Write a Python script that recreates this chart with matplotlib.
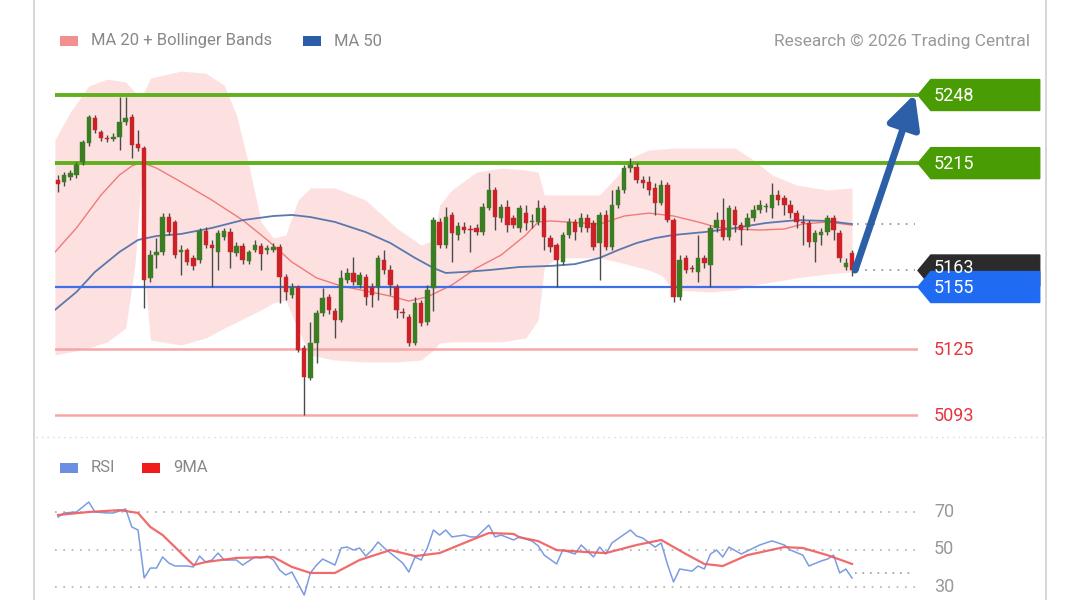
import matplotlib
matplotlib.use("Agg")
import matplotlib.pyplot as plt
from matplotlib.patches import Polygon, Rectangle
from matplotlib.lines import Line2D

plt.rcParams['font.family'] = ['Roboto', 'DejaVu Sans']

# ---------------- data ----------------
opens = [5206.8, 5205.9, 5208.3, 5209.3, 5215.5, 5224.8, 5236.9, 5230.1, 5227.2, 5226.7,
         5227.7, 5234.9, 5237.3, 5224.3, 5222.3, 5159.4, 5170.5, 5172.0, 5188.9, 5186.5,
         5172.0, 5172.9, 5169.1, 5168.1, 5182.1, 5175.3, 5172.0, 5179.2, 5181.6, 5171.5,
         5174.9, 5167.6, 5172.9, 5174.9, 5172.9, 5172.9, 5174.4, 5159.9, 5151.1, 5155.0,
         5125.5, 5110.9, 5127.9, 5142.4, 5150.2, 5143.4, 5139.0, 5158.4, 5161.8, 5156.0,
         5159.9, 5155.0, 5155.0, 5168.1, 5163.2, 5155.0, 5142.9, 5140.5, 5127.9, 5147.3,
         5138.0, 5154.5, 5186.5, 5175.3, 5189.9, 5180.2, 5184.0, 5183.1, 5183.6, 5181.6,
         5193.3, 5202.0, 5188.4, 5193.8, 5188.4, 5183.6, 5190.8, 5186.5, 5186.5, 5193.3,
         5178.7, 5175.3, 5167.1, 5180.2, 5186.5, 5184.0, 5188.4, 5186.0, 5176.3, 5189.9,
         5174.4, 5194.7, 5202.0, 5212.6, 5213.1, 5206.8, 5205.9, 5203.0, 5195.7, 5204.4,
         5187.4, 5150.2, 5169.1, 5164.2, 5162.3, 5169.1, 5165.6, 5183.6, 5187.4, 5179.2,
         5192.3, 5185.0, 5184.0, 5188.4, 5192.3, 5193.8, 5193.3, 5199.6, 5198.1, 5194.7,
         5190.8, 5186.5, 5186.0, 5176.8, 5180.2, 5181.6, 5188.4, 5181.2, 5164.7, 5171.5]
highs = [5209.3, 5210.7, 5211.7, 5215.5, 5226.2, 5238.3, 5238.3, 5231.0, 5228.6, 5229.6,
         5247.0, 5247.0, 5238.8, 5231.0, 5223.3, 5172.9, 5178.7, 5190.8, 5190.8, 5187.4,
         5175.3, 5173.9, 5170.5, 5183.6, 5184.0, 5177.8, 5182.6, 5183.6, 5183.6, 5176.8,
         5176.3, 5172.9, 5177.8, 5176.3, 5175.3, 5176.3, 5175.8, 5161.3, 5157.0, 5156.0,
         5126.9, 5138.0, 5143.9, 5154.5, 5151.6, 5144.8, 5163.2, 5164.2, 5169.5, 5162.3,
         5161.3, 5157.0, 5170.5, 5172.9, 5165.6, 5156.5, 5144.8, 5141.9, 5150.2, 5148.7,
         5156.0, 5188.9, 5188.4, 5193.8, 5191.3, 5186.5, 5186.5, 5185.0, 5185.5, 5195.7,
         5210.2, 5203.4, 5195.2, 5197.1, 5189.9, 5194.7, 5194.7, 5190.4, 5197.1, 5194.7,
         5180.2, 5176.3, 5181.6, 5188.4, 5187.9, 5190.8, 5190.4, 5187.4, 5191.3, 5192.3,
         5202.0, 5203.9, 5214.1, 5217.5, 5215.1, 5208.8, 5208.8, 5205.4, 5206.8, 5205.9,
         5188.4, 5170.5, 5170.5, 5165.6, 5180.2, 5170.5, 5185.0, 5191.3, 5198.1, 5194.7,
         5194.2, 5186.5, 5190.8, 5194.7, 5197.1, 5195.7, 5205.4, 5202.0, 5199.6, 5197.1,
         5192.3, 5189.9, 5187.4, 5182.6, 5183.6, 5189.9, 5189.9, 5182.6, 5169.1, 5172.9]
lows = [5201.0, 5203.9, 5206.8, 5207.8, 5214.1, 5223.3, 5229.6, 5225.7, 5225.2, 5225.7,
        5221.4, 5233.5, 5217.5, 5220.9, 5144.8, 5157.4, 5164.2, 5170.5, 5180.2, 5169.1,
        5160.8, 5165.6, 5163.2, 5166.6, 5173.9, 5155.0, 5163.2, 5177.8, 5164.2, 5170.0,
        5166.1, 5166.1, 5172.0, 5163.2, 5171.0, 5172.0, 5147.3, 5148.7, 5149.7, 5123.5,
        5093.0, 5109.9, 5118.2, 5141.0, 5141.9, 5130.3, 5138.0, 5157.0, 5156.0, 5154.5,
        5146.3, 5145.3, 5148.7, 5161.3, 5151.1, 5140.0, 5140.0, 5126.4, 5126.9, 5136.1,
        5136.6, 5143.4, 5173.9, 5173.9, 5167.1, 5177.8, 5181.2, 5172.0, 5180.2, 5180.2,
        5192.3, 5182.6, 5186.5, 5181.6, 5183.6, 5181.6, 5182.6, 5183.6, 5185.0, 5172.9,
        5172.0, 5155.0, 5165.6, 5178.7, 5177.8, 5181.6, 5181.6, 5172.9, 5158.4, 5172.9,
        5172.9, 5193.3, 5200.5, 5210.7, 5205.4, 5203.0, 5199.6, 5189.9, 5194.7, 5186.5,
        5147.7, 5148.7, 5161.8, 5162.3, 5157.4, 5164.2, 5155.0, 5181.6, 5177.8, 5177.8,
        5181.6, 5175.3, 5182.6, 5187.0, 5190.8, 5191.3, 5188.4, 5194.7, 5189.9, 5188.4,
        5183.6, 5175.3, 5174.4, 5167.1, 5175.3, 5180.2, 5177.8, 5167.1, 5163.2, 5160.3]
closes = [5204.9, 5209.3, 5210.2, 5214.1, 5225.2, 5237.3, 5231.0, 5227.2, 5226.7, 5227.7,
          5234.9, 5236.9, 5223.8, 5222.3, 5158.4, 5170.5, 5172.0, 5188.9, 5181.6, 5170.5,
          5172.9, 5167.1, 5165.2, 5182.1, 5175.3, 5173.9, 5181.2, 5182.1, 5172.0, 5174.9,
          5168.1, 5172.0, 5175.3, 5171.0, 5173.9, 5174.4, 5159.9, 5152.6, 5155.0, 5124.5,
          5111.4, 5127.9, 5142.4, 5149.7, 5143.9, 5139.0, 5159.4, 5161.8, 5157.4, 5160.8,
          5150.2, 5151.1, 5169.1, 5163.2, 5156.0, 5143.9, 5142.4, 5127.9, 5147.3, 5137.6,
          5153.5, 5187.4, 5175.3, 5188.9, 5181.2, 5184.5, 5182.6, 5182.6, 5181.6, 5193.8,
          5202.0, 5188.9, 5193.8, 5185.0, 5185.0, 5193.3, 5186.0, 5187.0, 5193.3, 5179.2,
          5174.4, 5168.1, 5180.2, 5186.5, 5181.6, 5188.4, 5183.6, 5174.4, 5189.9, 5174.4,
          5194.7, 5202.0, 5212.6, 5214.1, 5206.8, 5205.4, 5202.0, 5195.7, 5204.4, 5187.4,
          5150.2, 5168.1, 5163.2, 5163.7, 5169.1, 5166.6, 5183.6, 5187.4, 5179.2, 5193.3,
          5185.0, 5182.6, 5188.4, 5192.3, 5194.7, 5194.2, 5199.6, 5197.1, 5194.7, 5190.8,
          5186.5, 5186.0, 5176.8, 5181.2, 5181.6, 5188.4, 5182.6, 5169.1, 5166.6, 5163.2]

# Bollinger band outline (candle index, price)
bb_idx = [-0.5, 2, 5, 8, 11, 12.5, 13.5, 14.3, 15, 20, 24, 27, 29, 31, 33, 35, 37, 39, 41, 45,
          50, 55, 59, 61, 62, 64, 68, 72, 76, 78, 79, 81, 88, 91, 93, 96, 98, 100, 106, 110,
          113, 116, 120, 125, 129]
bb_upper = [5226.2, 5239.8, 5252.4, 5255.7, 5254.3, 5249.4, 5247.0, 5251.4, 5256.2, 5259.6,
            5258.6, 5252.8, 5238.3, 5214.1, 5186.5, 5178.7, 5180.2, 5197.1, 5203.0, 5203.0,
            5197.1, 5183.6, 5175.3, 5177.8, 5194.7, 5202.0, 5210.7, 5212.6, 5211.7, 5210.7,
            5199.6, 5199.6, 5199.6, 5209.3, 5217.5, 5221.4, 5221.8, 5222.3, 5222.3, 5222.3,
            5216.5, 5209.3, 5204.4, 5202.0, 5203.0]
bb_lower = [5122.1, 5123.5, 5125.5, 5128.4, 5135.1, 5165.6, 5206.8, 5153.5, 5129.3, 5126.9,
            5130.3, 5135.1, 5138.0, 5141.0, 5143.9, 5147.3, 5148.7, 5134.2, 5122.1, 5119.6,
            5118.7, 5118.7, 5119.6, 5124.5, 5127.9, 5128.4, 5128.4, 5128.4, 5130.3, 5139.0,
            5164.2, 5169.1, 5169.1, 5167.1, 5165.6, 5163.2, 5160.8, 5153.5, 5152.6, 5153.5,
            5156.0, 5157.4, 5159.4, 5161.3, 5162.3]

ma20_idx = [-0.5, 3, 7, 10, 12, 13.5, 16, 20, 25, 30, 34, 38, 42, 46, 50, 54, 57, 60, 64, 68,
            72, 76, 78, 80, 88, 92, 96, 100, 104, 107, 110, 114, 118, 121, 125, 129]
ma20 = [5171.9, 5183.6, 5199.6, 5209.3, 5213.6, 5215.5, 5212.6, 5205.9, 5197.1, 5187.4,
        5177.8, 5167.1, 5159.4, 5155.5, 5153.1, 5150.6, 5148.2, 5150.2, 5156.0, 5164.2,
        5170.5, 5180.2, 5186.5, 5187.0, 5185.5, 5189.4, 5190.8, 5189.4, 5186.5, 5184.0,
        5183.1, 5182.6, 5183.1, 5185.5, 5186.5, 5185.0]

ma50_idx = [-0.5, 3, 6, 10, 13, 16, 20, 25, 30, 35, 38, 41, 45, 50, 54, 58, 61, 63, 66, 70,
            75, 80, 84, 88, 91, 94, 97, 100, 105, 110, 115, 120, 125, 129]
ma50 = [5143.9, 5152.6, 5162.3, 5172.0, 5177.8, 5179.7, 5180.7, 5183.6, 5187.4, 5189.4,
        5189.9, 5188.9, 5186.5, 5181.6, 5176.3, 5169.1, 5164.2, 5161.8, 5162.3, 5163.2,
        5164.7, 5165.2, 5166.1, 5169.1, 5172.9, 5176.3, 5178.7, 5180.2, 5181.6, 5183.6,
        5186.0, 5187.4, 5187.0, 5185.5]

rsi_idx = [0, 1, 3, 5, 6, 8, 9, 11, 12, 13, 14, 15, 16, 17, 18, 19, 21, 22, 23, 24, 25, 26, 27,
           29, 30, 32, 33, 34, 35, 36, 37, 38, 40, 41, 42, 43, 44, 45, 46, 47, 48, 49, 50, 51,
           52, 53, 55, 56, 57, 58, 59, 60, 61, 62, 63, 64, 66, 67, 68, 70, 71, 72, 74, 75, 77,
           78, 79, 81, 82, 84, 85, 87, 88, 89, 90, 93, 94, 95, 97, 98, 99, 100, 101, 103, 104,
           105, 106, 107, 108, 109, 111, 113, 114, 116, 118, 119, 121, 122, 124, 125, 126, 127,
           128, 129]
rsi = [67.3, 69.5, 70, 75.3, 70, 69.5, 69.5, 71.6, 62, 60.4, 34.8, 40.1, 40.1, 46, 42.8, 41.2,
       41.2, 40.7, 46.5, 43.3, 44.4, 48.1, 44.4, 44.4, 41.7, 46, 45.5, 46.5, 44.4, 39.1, 36.4,
       38, 25.7, 37.5, 41.7, 44.9, 43.3, 41.7, 50.8, 51.3, 49.7, 50.8, 46.5, 49.7, 54, 50.8,
       45.5, 42.8, 38, 46, 44.4, 50.8, 60.4, 57.7, 60.4, 56.7, 57.7, 56.7, 56.7, 63, 56.7,
       57.7, 55.1, 56.7, 54.5, 52, 47, 42.3, 49.7, 47.6, 52.4, 46, 51.3, 47.6, 53.5, 60.4,
       57.2, 56.1, 51.3, 53.5, 42.3, 32.7, 39.6, 38.5, 41.2, 39.6, 47.6, 49.7, 46, 51.3, 47.6,
       50.8, 52.4, 54.6, 52.4, 49.7, 47, 41.2, 43.9, 44.9, 47, 37.5, 39.6, 34.8]

ma9_idx = [0, 5, 10, 13, 15, 17, 19, 22, 24, 29, 35, 38, 41, 45, 49, 54, 58, 62, 66, 70, 74,
           75, 78, 81, 86, 89, 94, 98, 102, 105, 108, 112, 118, 121, 125, 129]
rsi_ma9 = [68.4, 70, 71, 69.5, 62, 57.7, 51.3, 41.7, 43.3, 45.5, 46, 40.7, 37.5, 37.5, 44.4,
           49.7, 46.5, 48.1, 53.5, 58.8, 58.3, 56.5, 54.5, 49.7, 48.6, 48.1, 52.4, 55.1, 47.6,
           42.3, 41.2, 47, 51.3, 50.8, 47, 42.3]

resist_levels = [5248, 5215]
pivot_level = 5155
support_levels = [5125, 5093]
last_price = 5163
rsi_levels = [70, 50, 30]

# ---------------- layout ----------------
W, H = 1068, 600
fig = plt.figure(figsize=(W / 100, H / 100), dpi=100)
fig.patch.set_facecolor('white')


def fx(px):
    return px / W


def fy(py):
    return 1 - py / H


XMIN, XMAX = -0.487, 139.72

ax = fig.add_axes([fx(55), fy(430), (918 - 55) / W, (430 - 60) / H])
ax.set_xlim(XMIN, XMAX)
ax.set_ylim(5085.74, 5264.96)
ax.axis('off')

# Bollinger band fill
ax.fill_between(bb_idx, bb_lower, bb_upper, color='#fde1e1', lw=0, zorder=1)
ax.plot(ma20_idx, ma20, color='#f07a7a', lw=1.0, zorder=2)
ax.plot(ma50_idx, ma50, color='#5a78ad', lw=1.3, zorder=2)

# level lines
for lv in resist_levels:
    ax.axhline(lv, color='#5fb01c', lw=2.8, zorder=3)
ax.axhline(pivot_level, color='#3d6fe6', lw=1.6, zorder=3)
for lv in support_levels:
    ax.axhline(lv, color='#f5a6a6', lw=1.8, zorder=3)

# candles
n = len(closes)
for i in range(n):
    o, h, l, c = opens[i], highs[i], lows[i], closes[i]
    up = c >= o
    col = '#3b7d23' if up else '#cc2127'
    ax.vlines(i, l, h, color='#4a4a4a', lw=1.0, zorder=4)
    b = min(o, c)
    hgt = max(abs(c - o), 0.6)
    ax.add_patch(Rectangle((i - 0.36, b), 0.72, hgt, facecolor=col, edgecolor=col,
                           lw=0.3, zorder=5))

# dotted extensions
ax.plot([n - 0.2, 139.2], [ma50[-1], ma50[-1]], color='#9a9a9a', lw=1.3,
        ls=(0, (1, 3.5)), zorder=3, clip_on=False)
ax.plot([n - 0.2, 139.2], [last_price, last_price], color='#9a9a9a', lw=1.3,
        ls=(0, (1, 3.5)), zorder=3, clip_on=False)

# arrow
ax.annotate('', xy=(139.2, 5248.5), xytext=(n - 0.5, closes[-1]),
            arrowprops=dict(arrowstyle='-|>,head_length=1.0,head_width=0.5',
                            color='#2c5fa8', lw=5, shrinkA=0, shrinkB=0,
                            mutation_scale=20),
            annotation_clip=False, zorder=8)

# tags
TIP, BODY, END = 139.72, 141.8, 159.5
HALF = 7.5


def tag(level, color, text, text_y=None):
    pts = [(TIP, level), (BODY, level + HALF), (END, level + HALF), (END, level - HALF),
           (BODY, level - HALF)]
    ax.add_patch(Polygon(pts, closed=True, facecolor=color, edgecolor=color,
                         clip_on=False, zorder=9))
    ty = level - 0.3 if text_y is None else text_y
    ax.text(142.3, ty, text, color='white', fontsize=13, va='center', ha='left',
            clip_on=False, zorder=10)


tag(resist_levels[0], '#4a9c05', str(resist_levels[0]))
tag(resist_levels[1], '#4a9c05', str(resist_levels[1]))
tag(last_price, '#2b2b2b', str(last_price), text_y=last_price + 1.0)
tag(pivot_level, '#1f6bf2', str(pivot_level))
for lv in support_levels:
    ax.text(142.3, lv - 0.3, str(lv), color='#e5353f', fontsize=13, va='center', ha='left',
            clip_on=False, zorder=10)

# ---------------- RSI panel ----------------
rax = fig.add_axes([fx(55), fy(600), (918 - 55) / W, (600 - 490) / H])
rax.set_xlim(XMIN, XMAX)
rax.set_ylim(23.07, 81.73)
rax.axis('off')
for lv in rsi_levels:
    rax.plot([XMIN, 139.5], [lv, lv], color='#b0b0b0', lw=1.2, ls=(0, (1, 4)))
    fig.text(fx(934), fy(512 + (70 - lv) * 1.875), str(lv), color='#999999', fontsize=13,
             va='center', ha='left')
rax.plot(rsi_idx, rsi, color='#7b9be3', lw=1.1, zorder=3)
rax.plot(ma9_idx, rsi_ma9, color='#ef5b5b', lw=1.6, zorder=4, alpha=0.9)
rax.plot([rsi_idx[-1] + 0.5, 139.2], [37.5, 37.5], color='#9a9a9a', lw=1.2,
         ls=(0, (1, 3.5)))

# ---------------- frame & legends ----------------
fig.add_artist(Line2D([fx(34), fx(34)], [0, 1], color='#d0d0d0', lw=1.2))
fig.add_artist(Line2D([fx(1046), fx(1046)], [0, 1], color='#d0d0d0', lw=1.2))
fig.add_artist(Line2D([fx(36), fx(1044)], [fy(437), fy(437)], color='#d8d8d8', lw=1.0,
                      ls=(0, (1, 3))))


def legend_item(x, y, color, text):
    fig.add_artist(Rectangle((fx(x), fy(y + 5)), 18 / W, 10 / H, facecolor=color,
                             edgecolor='none', transform=fig.transFigure))
    fig.text(fx(x + 31), fy(y), text, color='#888888', fontsize=12, va='center', ha='left')


legend_item(60, 41, '#f38f8f', 'MA 20 + Bollinger Bands')
legend_item(303, 41, '#2c5ea8', 'MA 50')
legend_item(60, 468, '#6a8fe0', 'RSI')
legend_item(142, 468, '#ee1c1c', '9MA')
fig.text(fx(1030), fy(41), 'Research \u00a9 2026 Trading Central', color='#999999',
         fontsize=12.5, va='center', ha='right')

fig.savefig('out.png', dpi=100, facecolor='white')
